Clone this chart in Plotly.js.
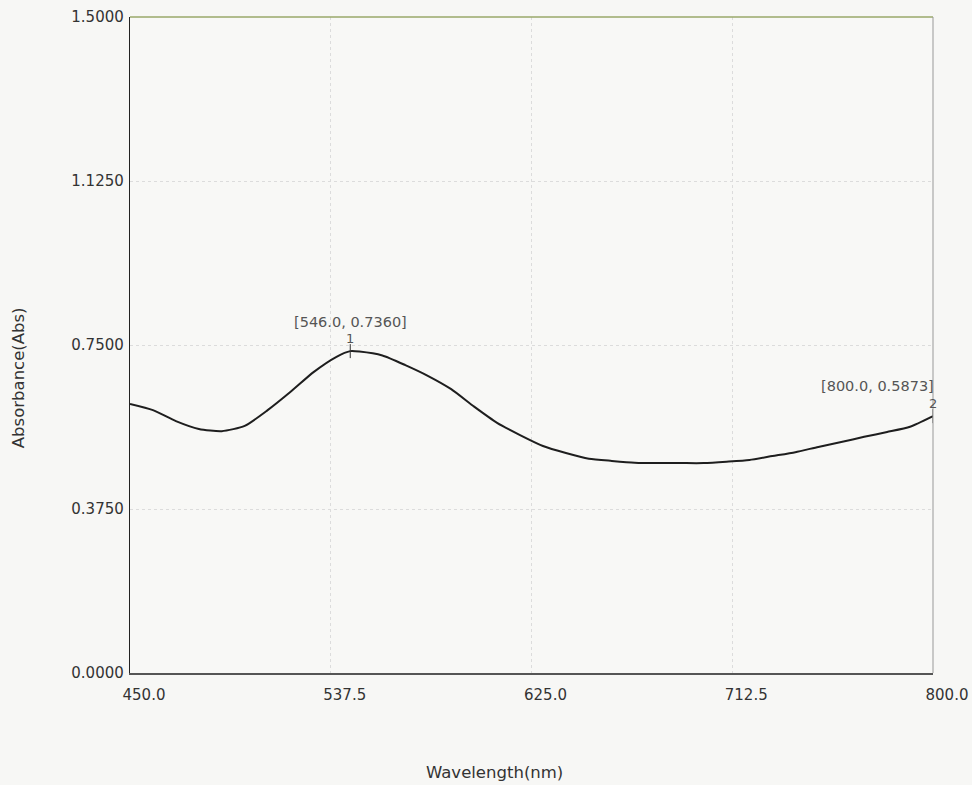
<!DOCTYPE html>
<html>
<head>
<meta charset="utf-8">
<script src="https://cdn.plot.ly/plotly-3.0.1.min.js"></script>
<style>html,body{margin:0;padding:0;background:#f7f7f5;}#chart{width:972px;height:785px;}</style>
</head>
<body>
<div id="chart"></div>
<script>
const wavelength = [450, 460, 470, 480, 490, 500, 510, 520, 530, 540, 546, 550, 560, 570, 580, 590, 600, 610, 620, 630, 640, 650, 660, 670, 680, 690, 700, 710, 720, 730, 740, 750, 760, 770, 780, 790, 800];
const absorbance = [0.615, 0.601, 0.576, 0.558, 0.553, 0.565, 0.601, 0.643, 0.688, 0.723, 0.736, 0.735, 0.726, 0.704, 0.679, 0.649, 0.609, 0.572, 0.544, 0.519, 0.503, 0.490, 0.485, 0.481, 0.480, 0.480, 0.480, 0.483, 0.487, 0.496, 0.505, 0.517, 0.528, 0.540, 0.551, 0.563, 0.5873];
const peakX = [546.0, 800.0];
const peakY = [0.7360, 0.5873];
const peakNum = ["1", "2"];
const xTicks = [450.0, 537.5, 625.0, 712.5, 800.0];
const yTicks = [0.0, 0.375, 0.75, 1.125, 1.5];
const xTitle = 'Wavelength(nm)';
const yTitle = 'Absorbance(Abs)';

const font = "DejaVu Sans, Verdana, sans-serif";

const traces = [
  {x: wavelength, y: absorbance, type: 'scatter', mode: 'lines', line: {color: '#1e1e1e', width: 2, shape: 'spline', smoothing: 0.6}, hoverinfo: 'skip'},
  {x: peakX, y: peakY, type: 'scatter', mode: 'markers', marker: {symbol: 'line-ns', size: 10, line: {color: '#333', width: 1}}, hoverinfo: 'skip'}
];

const annotations = [];
peakX.forEach((px, i) => {
  const label = '[' + px.toFixed(1) + ', ' + peakY[i].toFixed(4) + ']';
  annotations.push({x: px, y: peakY[i], xref: 'x', yref: 'y', text: label, showarrow: false,
    xanchor: i === 0 ? 'center' : 'right', yanchor: 'bottom', yshift: i === 0 ? 19 : 20, xshift: i === 0 ? 0 : 3,
    font: {family: font, size: 14.5, color: '#555'}});
  annotations.push({x: px, y: peakY[i], xref: 'x', yref: 'y', text: peakNum[i], showarrow: false,
    xanchor: 'center', yanchor: 'bottom', yshift: 3,
    font: {family: font, size: 13, color: '#555'}});
});
annotations.push({xref: 'paper', yref: 'paper', x: 0.454, y: -0.152, text: xTitle, showarrow: false,
  xanchor: 'center', yanchor: 'middle', font: {family: font, size: 16.5, color: '#333'}});
annotations.push({xref: 'paper', yref: 'paper', x: -0.139, y: 0.45, text: yTitle, showarrow: false, textangle: -90,
  xanchor: 'center', yanchor: 'middle', font: {family: font, size: 16.5, color: '#333'}});

const layout = {
  width: 972, height: 785,
  margin: {l: 130, r: 39, t: 17, b: 112},
  paper_bgcolor: '#f7f7f5', plot_bgcolor: '#f8f8f6',
  showlegend: false,
  font: {family: font, color: '#333'},
  xaxis: {
    range: [450, 800], tickvals: xTicks, ticktext: xTicks.map(v => v.toFixed(1)),
    showgrid: true, gridcolor: '#dcdcdc', griddash: 'dot', gridwidth: 1,
    showline: true, linecolor: '#555', linewidth: 1.5, zeroline: false, ticks: '',
    ticklabelshift: 14, ticklabelstandoff: 7,
    tickfont: {family: font, size: 15, color: '#333'}
  },
  yaxis: {
    range: [0, 1.5], tickvals: yTicks, ticktext: yTicks.map(v => v.toFixed(4)),
    showgrid: true, gridcolor: '#dcdcdc', griddash: 'dot', gridwidth: 1,
    showline: true, linecolor: '#222', linewidth: 1.2, zeroline: false, ticks: '',
    ticklabelstandoff: 2,
    tickfont: {family: font, size: 15, color: '#333'}
  },
  shapes: [
    {type: 'line', xref: 'paper', yref: 'paper', x0: 0, x1: 1, y0: 1, y1: 1, line: {color: '#9aa86a', width: 1.5}},
    {type: 'line', xref: 'paper', yref: 'paper', x0: 1, x1: 1, y0: 0, y1: 1, line: {color: '#999', width: 1}}
  ],
  annotations: annotations
};

Plotly.newPlot('chart', traces, layout, {displayModeBar: false, staticPlot: true});
</script>
</body>
</html>
